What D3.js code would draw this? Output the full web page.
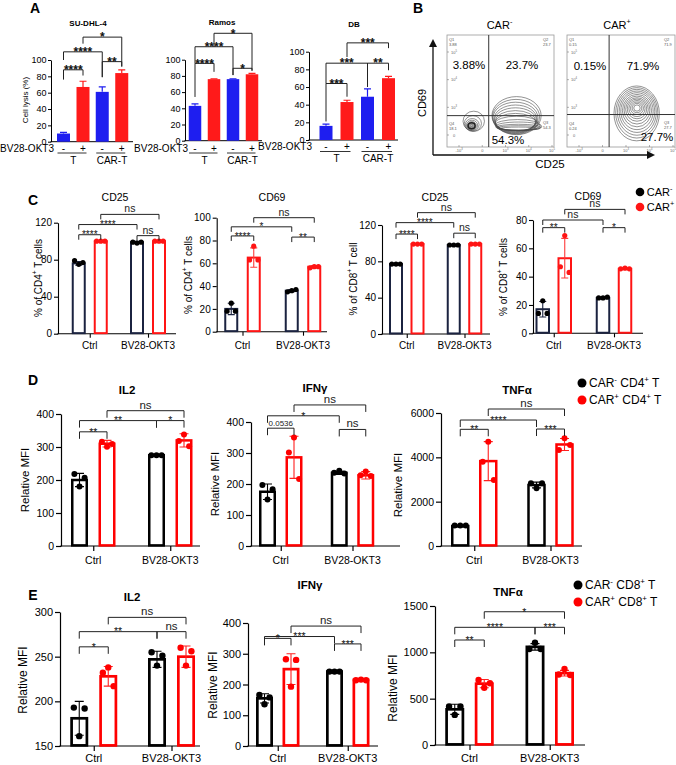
<!DOCTYPE html>
<html><head><meta charset="utf-8">
<script src="https://cdn.jsdelivr.net/npm/d3@7"></script>
<style>body{margin:0;background:#fff} svg{display:block}</style>
</head><body>
<script>
// ================= DATA =================
// Panel A  (cell lysis %)
const A_groups = ["T", "CAR-T"];
const A_series = ["-", "+"];
const A_yTicks = [0, 20, 40, 60, 80, 100];
const A_SUDHL4_mean = [10, 67, 61, 84];
const A_SUDHL4_sd = [1.5, 7, 6, 4];
const A_Ramos_mean = [43, 76, 76, 82];
const A_Ramos_sd = [2.5, 0.5, 0.5, 1.2];
const A_DB_mean = [16, 43, 49, 70];
const A_DB_sd = [2, 2, 9, 2];
const A_SUDHL4_sig = [
  {a:0,b:1,y:88,la:76,lb:81,label:"****"},
  {a:0,b:2,y:110,la:100,lb:79,label:"****"},
  {a:1,b:3,y:128,la:120,lb:92,label:"*"},
  {a:2,b:3,y:98,la:79,lb:92,label:"**"}];
const A_Ramos_sig = [
  {a:0,b:1,y:95.5,la:54,lb:85,label:"****"},
  {a:0,b:2,y:116,la:95.5,lb:81,label:"****"},
  {a:1,b:3,y:132.6,la:116,lb:87,label:"*"},
  {a:2,b:3,y:89.4,la:81,lb:86,label:"*"}];
const A_DB_sig = [
  {a:0,b:1,y:64,la:21,lb:49,label:"***"},
  {a:0,b:2,y:87,la:64,lb:60,label:"***"},
  {a:1,b:3,y:110,la:94,lb:104,label:"***"},
  {a:2,b:3,y:87,la:60,lb:79,label:"**"}];

// Panel B (flow cytometry)
const B_titles = ["CAR^-^", "CAR^+^"];
const B_neg_pct = ["3.88%", "23.7%", "54.3%"];
const B_pos_pct = ["0.15%", "71.9%", "27.7%"];
const B_neg_q = [["Q1","3.88"],["Q2","23.7"],["Q4","18.1"],["Q3","54.3"]];
const B_pos_q = [["Q1","0.15"],["Q2","71.9"],["Q4","0.24"],["Q3","27.7"]];
const B_neg_gate = [39, 28];
const B_pos_gate = [39, 29];
const B_yTickLabels = ["10^5^","10^4^","10^3^","0"];
const B_xTickLabels = ["-10^3^","0","10^3^","10^4^","10^5^"];
// contour rings [cx, cy, rx, ry] in plot units (0-100)
const B_neg_rings = [
  [25,23,10,9],[24.2,21,8,7],[23.6,20,6.4,5.4],[23.4,19.5,5.2,4.4],
  [23.2,19.2,4.2,3.5],[23,19,3.2,2.7],[23,19,2.3,1.9],[23,19,1.5,1.2],[23,19,0.8,0.7],
  [65,28,23,17],[64.5,27,22,15.5],[64,26,21,14],[64,25,20,12.5],[64,24,19.5,11],
  [64,23,19,9.5],[64,22,19,8],[65,21,20,6.5],[66,19.5,21,5],[67,18.5,21.5,3.8],
  [67,17.5,21,2.8],[67,17,20,2],[67,16.5,17,1.3]];
const B_pos_rings = [
  [64.5,30,21,24.5],[64.6,30.5,19.5,22.5],[64.7,31,18,20.5],[64.8,31.5,16.5,18.5],
  [64.8,32,15,16.5],[64.8,32.5,13.5,14.5],[64.8,33,12,12.5],[64.8,33.5,10.5,10.5],
  [64.8,34,9,8.8],[64.8,34.3,7.5,7.2],[64.8,34.6,6,5.6],[64.8,34.8,4.5,4.2],[64.8,34.8,3,2.8]];

// Panel C (% activation markers)
const C_groups = ["Ctrl", "BV28-OKT3"];
const C_series = ["CAR-", "CAR+"];
const C_CD4_CD25_mean = [76, 100, 99, 100];
const C_CD4_CD25_sd = [2, 0.5, 0.8, 0.5];
const C_CD4_CD25_pts = [[79,75,77],[100,100,100],[99,98,99],[100,100,100]];
const C_CD4_CD69_mean = [20, 65, 36, 57];
const C_CD4_CD69_sd = [5, 8.5, 1, 1];
const C_CD4_CD69_pts = [[18,25,18],[63,75,63],[35,36,37],[56,57,57]];
const C_CD8_CD25_mean = [77, 99, 98, 99];
const C_CD8_CD25_sd = [0.5, 0.5, 0.5, 0.5];
const C_CD8_CD25_pts = [[77,77,77],[99,99,99],[98,98,98],[99,99,99]];
const C_CD8_CD69_mean = [17, 53, 25, 45.5];
const C_CD8_CD69_sd = [5.5, 14, 0.5, 0.5];
const C_CD8_CD69_pts = [[14,23,14],[47,69,43],[25,25,25.5],[45.5,46,45.5]];
const C_sig = [
  [{a:0,b:1,y:107,label:"****"},{a:0,b:2,y:118,label:"****"},{a:1,b:3,y:129,label:"ns"},{a:2,b:3,y:106,label:"ns"}],
  [{a:0,b:1,y:84,label:"****"},{a:0,b:2,y:92,label:"*"},{a:1,b:3,y:100,label:"ns"},{a:2,b:3,y:83,label:"**"}],
  [{a:0,b:1,y:110,label:"****"},{a:0,b:2,y:122.6,label:"****"},{a:1,b:3,y:133.6,label:"ns"},{a:2,b:3,y:111,label:"ns"}],
  [{a:0,b:1,y:74.6,label:"**"},{a:0,b:2,y:80,label:"ns"},{a:1,b:3,y:87.5,label:"ns"},{a:2,b:3,y:74.6,label:"*"}]];

// Panel D (CD4 cytokines, relative MFI)
const D_IL2_mean = [200, 310, 275, 320];
const D_IL2_sd = [20, 10, 2, 20];
const D_IL2_pts = [[218,180,207],[316,301,309],[275,275,275],[318,338,302]];
const D_IFNg_mean = [175, 286, 236, 228];
const D_IFNg_sd = [25, 68, 5, 12];
const D_IFNg_pts = [[197,150,183],[302,350,216],[236,243,234],[228,240,226]];
const D_TNFa_mean = [900, 3830, 2750, 4580];
const D_TNFa_sd = [40, 880, 130, 270];
const D_TNFa_pts = [[930,930,930],[3803,4706,2977],[2828,2602,2828],[4330,4857,4555]];
const D_sig = [
  [{a:0,b:1,y:346,label:"**"},{a:0,b:2,y:380,label:"**"},{a:1,b:3,y:410,label:"ns"},{a:2,b:3,y:380,label:"*"}],
  [{a:0,b:1,y:380,label:"0.0536"},{a:0,b:2,y:420,label:"*"},{a:1,b:3,y:455,label:"ns"},{a:2,b:3,y:376,label:"ns"}],
  [{a:0,b:1,y:5264,label:"**"},{a:0,b:2,y:5683,label:"****"},{a:1,b:3,y:6180,label:"ns"},{a:2,b:3,y:5277,label:"***"}]];

// Panel E (CD8 cytokines, relative MFI)
const E_IL2_mean = [181, 228, 247, 250];
const E_IL2_sd = [19, 11, 9, 12];
const E_IL2_pts = [[193,161,192],[232,238,217],[255,240,251],[260,240,256]];
const E_IFNg_mean = [155, 250, 242, 215];
const E_IFNg_sd = [15, 50, 1, 2];
const E_IFNg_pts = [[166,136,158],[282,193,280],[242,242,242],[214,216,214]];
const E_TNFa_mean = [385, 662, 1059, 775];
const E_TNFa_sd = [55, 45, 35, 30];
const E_TNFa_pts = [[415,325,415],[701,618,666],[1036,1104,1036],[760,820,755]];
const E_sig = [
  [{a:0,b:1,y:261,label:"*"},{a:0,b:2,y:278,label:"**"},{a:1,b:3,y:294,label:"ns"},{a:2,b:3,y:278,label:"ns"}],
  [{a:0,b:1,y:350,label:"*"},{a:0,b:2,y:356,label:"***"},{a:1,b:3,y:390,label:"ns"},{a:2,b:3,y:332,label:"***"}],
  [{a:0,b:1,y:1133,label:"**"},{a:0,b:2,y:1270,label:"****"},{a:1,b:3,y:1438,label:"*"},{a:2,b:3,y:1270,label:"***"}]];

const legendC = ["CAR^-^", "CAR^+^"];
const legendD = ["CAR^-^ CD4^+^ T", "CAR^+^ CD4^+^ T"];
const legendE = ["CAR^-^ CD8^+^ T", "CAR^+^ CD8^+^ T"];

// ================= DRAWING =================
const FONT = "'Liberation Sans', Arial, Helvetica, sans-serif";
const svg = d3.select("body").append("svg").attr("width", 676).attr("height", 765)
  .style("font-family", FONT);

function rich(sel, str, size) {
  const parts = String(str).split("^");
  let raised = false;
  parts.forEach((p, i) => {
    const sup = i % 2 === 1;
    if (!p) return;
    const t = sel.append("tspan").text(p);
    if (sup) { t.attr("font-size", size * 0.66).attr("dy", -size * 0.42); raised = true; }
    else if (raised) { t.attr("dy", size * 0.42); raised = false; }
  });
  return sel;
}
function txt(parent, x, y, str, size, o = {}) {
  const t = parent.append("text").attr("x", x).attr("y", y).attr("font-size", size)
    .attr("text-anchor", o.anchor || "middle").attr("fill", o.fill || "#000");
  if (o.bold) t.attr("font-weight", "bold");
  if (o.rotate) t.attr("transform", `rotate(-90,${x},${y})`).attr("dominant-baseline", "central");
  rich(t, str, size);
  return t;
}

function barChart(c) {
  const g = svg.append("g");
  const y = d3.scaleLinear().domain(c.yDomain).range([c.yBottom, c.yTop]);
  const gx = d3.scalePoint().domain(c.groups).range(c.groupRange);
  const sx = d3.scalePoint().domain(c.series).range([-c.d / 2, c.d / 2]);
  const idx = d3.range(c.mean.length);
  const cx = i => gx(c.groups[Math.floor(i / 2)]) + sx(c.series[i % 2]);
  const col = i => c.colors[i % 2];
  const base = y(c.yDomain[0]);

  const ay = g.append("g").attr("transform", `translate(${c.axisX},0)`)
    .call(d3.axisLeft(y).tickValues(c.yTicks).tickFormat(d3.format("d"))
      .tickSize(c.tick).tickSizeOuter(0).tickPadding(c.tickPad || 2));
  ay.selectAll("path,line").attr("stroke", "#000").attr("stroke-width", c.axisW);
  ay.selectAll("text").attr("font-size", c.tickFont).attr("font-family", FONT).attr("fill", "#000");
  g.append("line").attr("x1", c.axisX - c.axisW / 2).attr("x2", c.xEnd)
    .attr("y1", base).attr("y2", base).attr("stroke", "#000").attr("stroke-width", c.axisW);
  if (c.catTicks) {
    const ax = g.append("g").attr("transform", `translate(0,${base})`)
      .call(d3.axisBottom(gx).tickSize(c.tick).tickFormat(""));
    ax.select(".domain").remove();
    ax.selectAll("line").attr("stroke", "#000").attr("stroke-width", c.axisW);
    c.groups.forEach(gr => txt(g, gx(gr), c.catY, gr, c.catFont));
  }

  if (c.filled) {
    g.selectAll("rect.bar").data(idx).join("rect").attr("class", "bar")
      .attr("x", i => cx(i) - c.bw / 2).attr("width", c.bw)
      .attr("y", i => y(c.mean[i])).attr("height", i => base - y(c.mean[i]))
      .attr("fill", col);
    idx.forEach(i => {
      const x0 = cx(i), yt = y(c.mean[i] + c.sd[i]);
      g.append("path").attr("d", `M${x0},${y(c.mean[i])}V${yt}M${x0 - c.cap},${yt}H${x0 + c.cap}`)
        .attr("stroke", col(i)).attr("stroke-width", 1.2).attr("fill", "none");
    });
  } else {
    g.selectAll("rect.bar").data(idx).join("rect").attr("class", "bar")
      .attr("x", i => cx(i) - c.bw / 2 + c.sw / 2).attr("width", c.bw - c.sw)
      .attr("y", i => y(c.mean[i])).attr("height", i => base - y(c.mean[i]) - c.axisW / 2)
      .attr("fill", "#fff").attr("stroke", col).attr("stroke-width", c.sw);
    idx.forEach(i => {
      const x0 = cx(i), yt = y(c.mean[i] + c.sd[i]), yb = y(c.mean[i] - c.sd[i]);
      g.append("path").attr("d", `M${x0},${yb}V${yt}M${x0 - c.cap},${yt}H${x0 + c.cap}M${x0 - c.cap},${yb}H${x0 + c.cap}`)
        .attr("stroke", c.errColors[i % 2]).attr("stroke-width", 1.1).attr("fill", "none");
    });
    if (c.pts) {
      idx.forEach(i => {
        g.selectAll(null).data(c.pts[i]).join("circle")
          .attr("cx", (v, k) => cx(i) + (k - 1) * c.bw * 0.3)
          .attr("cy", v => y(v)).attr("r", c.r).attr("fill", c.ptColors[i % 2]);
      });
    }
  }

  c.sig.forEach(s => {
    const x1 = cx(s.a), x2 = cx(s.b), yy = y(s.y);
    const y1 = s.la !== undefined ? y(s.la) : yy + c.leg;
    const y2 = s.lb !== undefined ? y(s.lb) : yy + c.leg;
    g.append("path").attr("d", `M${x1},${y1}V${yy}H${x2}V${y2}`)
      .attr("fill", "none").attr("stroke", c.brColor || "#222").attr("stroke-width", 1);
    const star = /^\*+$/.test(s.label);
    const fs = star ? c.starFont : (s.label === "ns" ? c.nsFont : c.numFont);
    const ty = star ? yy + fs * 0.36 : yy - 2;
    const t = txt(g, (x1 + x2) / 2, ty, s.label, fs, {fill: star ? "#111" : "#222"});
    if (star && c.starBold) t.attr("font-weight", "bold");
  });

  if (c.title) txt(g, c.title[1], c.title[2], c.title[0], c.titleFont, {bold: c.titleBold});
  if (c.ylabel) txt(g, c.ylabel[1], c.ylabel[2], c.ylabel[0], c.ylabelFont, {rotate: true});
  return {g, cx, y, gx};
}

// ---------- Panel letters ----------
[["A", 35, 13], ["B", 418, 13], ["C", 33, 205], ["D", 33, 385], ["E", 33, 600]]
  .forEach(([l, x, y]) => txt(svg, x, y, l, 14, {bold: true}));

// ---------- Panel A ----------
const A_base = {groups: A_groups, series: A_series, yDomain: [0, 100], yTicks: A_yTicks,
  tick: 3, tickPad: 1.5, axisW: 1, tickFont: 9, filled: true, colors: ["#1e1ef0", "#ff1a1a"],
  cap: 3.5, starFont: 12, starBold: true, nsFont: 10, numFont: 8, titleFont: 8, titleBold: true,
  ylabelFont: 8, catTicks: false};
const A_charts = [
  {mean: A_SUDHL4_mean, sd: A_SUDHL4_sd, sig: A_SUDHL4_sig, axisX: 51, xEnd: 133, yTop: 60, yBottom: 141.7,
   groupRange: [73.25, 112], d: 19.5, bw: 13, title: ["SU-DHL-4", 88, 26], ylabel: ["Cell lysis (%)", 25, 100],
   rowY: 147.5, lineY: 153, grpY: 163.5},
  {mean: A_Ramos_mean, sd: A_Ramos_sd, sig: A_Ramos_sig, axisX: 185, xEnd: 262, yTop: 59.7, yBottom: 140.7,
   groupRange: [204.5, 242.5], d: 19, bw: 12.5, title: ["Ramos", 222, 25], rowY: 147.5, lineY: 153, grpY: 163.5},
  {mean: A_DB_mean, sd: A_DB_sd, sig: A_DB_sig, axisX: 309, xEnd: 398, yTop: 51.7, yBottom: 140,
   groupRange: [336.5, 378], d: 21, bw: 13, title: ["DB", 354, 27], rowY: 145.5, lineY: 151.5, grpY: 162}
];
A_charts.forEach(ac => {
  const ch = barChart(Object.assign({}, A_base, ac));
  d3.range(4).forEach(i => txt(ch.g, ch.cx(i), ac.rowY + 4, A_series[i % 2], 10));
  txt(ch.g, ac.axisX + 3, ac.rowY + 4, "BV28-OKT3", 10, {anchor: "end"});
  A_groups.forEach((gr, k) => {
    ch.g.append("line").attr("x1", ch.cx(2 * k) - 6).attr("x2", ch.cx(2 * k + 1) + 3.5)
      .attr("y1", ac.lineY).attr("y2", ac.lineY).attr("stroke", "#000").attr("stroke-width", 0.8);
    txt(ch.g, ch.gx(gr), ac.grpY, gr, 10);
  });
});

// ---------- Panel B ----------
function flowPlot(box, rings, gate, pct, pctPos, q, title) {
  const g = svg.append("g");
  const x = d3.scaleLinear().domain([0, 100]).range([box.x0, box.x1]);
  const y = d3.scaleLinear().domain([0, 100]).range([box.y1, box.y0]);
  g.append("rect").attr("x", box.x0).attr("y", box.y0).attr("width", box.x1 - box.x0)
    .attr("height", box.y1 - box.y0).attr("fill", "#fff").attr("stroke", "#9a9a9a").attr("stroke-width", 0.8);
  g.selectAll("ellipse").data(rings).join("ellipse")
    .attr("cx", d => x(d[0])).attr("cy", d => y(d[1]))
    .attr("rx", d => x(d[2]) - x(0)).attr("ry", d => y(0) - y(d[3]))
    .attr("fill", "none").attr("stroke", "#4a4a4a").attr("stroke-width", 0.6);
  g.append("line").attr("x1", x(gate[0])).attr("x2", x(gate[0])).attr("y1", box.y0).attr("y2", box.y1)
    .attr("stroke", "#333").attr("stroke-width", 1);
  g.append("line").attr("x1", box.x0).attr("x2", box.x1).attr("y1", y(gate[1])).attr("y2", y(gate[1]))
    .attr("stroke", "#333").attr("stroke-width", 1);
  pct.forEach((p, i) => txt(g, pctPos[i][0], pctPos[i][1], p, 11.5));
  const qp = [[box.x0 + 2, box.y0 + 6], [box.x1 - 11, box.y0 + 6],
              [box.x0 + 2, box.y1 - 22], [box.x1 - 11, box.y1 - 23]];
  q.forEach((qq, i) => {
    txt(g, qp[i][0], qp[i][1], qq[0], 4, {anchor: "start", fill: "#555"});
    txt(g, qp[i][0], qp[i][1] + 5, qq[1], 4, {anchor: "start", fill: "#555"});
  });
  const yt = d3.scaleLinear().domain([0, B_yTickLabels.length - 1]).range([box.y0 + 17, box.y1 - 12]);
  B_yTickLabels.forEach((l, i) => {
    g.append("line").attr("x1", box.x0).attr("x2", box.x0 + 2).attr("y1", yt(i)).attr("y2", yt(i)).attr("stroke", "#666").attr("stroke-width", 0.5);
    txt(g, box.x0 + 7, yt(i) + 1.5, l, 4, {fill: "#666"});
  });
  const xt = d3.scaleLinear().domain([0, B_xTickLabels.length - 1]).range([box.x0 + 12, box.x1 - 2]);
  B_xTickLabels.forEach((l, i) => {
    g.append("line").attr("x1", xt(i)).attr("x2", xt(i)).attr("y1", box.y1).attr("y2", box.y1 - 2).attr("stroke", "#666").attr("stroke-width", 0.5);
    txt(g, xt(i), box.y1 + 5, l, 4, {fill: "#666"});
  });
  txt(g, (box.x0 + box.x1) / 2 + title[1], 29, title[0], 11);
  return {x, y, g};
}
const fpNeg = flowPlot({x0: 447, x1: 554, y0: 35, y1: 147}, B_neg_rings, B_neg_gate, B_neg_pct,
  [[469, 69], [522, 69], [508, 144]], B_neg_q, [B_titles[0], -1]);
const fpPos = flowPlot({x0: 567, x1: 675, y0: 35, y1: 147}, B_pos_rings, B_pos_gate, B_pos_pct,
  [[590, 70], [643, 70], [657, 141]], B_pos_q, [B_titles[1], -4]);
fpNeg.g.append("ellipse").attr("cx", fpNeg.x(23)).attr("cy", fpNeg.y(19)).attr("rx", 3.5).attr("ry", 3)
  .attr("fill", "none").attr("stroke", "#222").attr("stroke-width", 1.6);
fpPos.g.append("circle").attr("cx", fpPos.x(64.8)).attr("cy", fpPos.y(34.8)).attr("r", 1.6).attr("fill", "#fff");
svg.append("path").attr("d", "M433,155V46M433,155H648").attr("stroke", "#111").attr("stroke-width", 1.3).attr("fill", "none");
svg.append("path").attr("d", "M429,47L433,39L437,47Z").attr("fill", "#111");
svg.append("path").attr("d", "M647,151L655,155L647,159Z").attr("fill", "#111");
txt(svg, 422, 103, "CD69", 11, {rotate: true});
txt(svg, 550, 168, "CD25", 11.5);

// ---------- Panel C ----------
const C_base = {groups: C_groups, series: C_series, tick: 4, tickPad: 2, axisW: 1.1, tickFont: 10,
  filled: false, colors: ["#1b2340", "#ff1414"], errColors: ["#1b2340", "#ff3a3a"], ptColors: ["#000", "#ff1414"],
  sw: 2, cap: 3.5, r: 2.6, leg: 5, starFont: 10, nsFont: 10.5, numFont: 8, titleFont: 10.5, titleBold: false,
  ylabelFont: 10, catTicks: true, catFont: 10, catY: 349};
const C_charts = [
  {mean: C_CD4_CD25_mean, sd: C_CD4_CD25_sd, pts: C_CD4_CD25_pts, sig: C_sig[0], yDomain: [0, 120], yTicks: [0, 40, 80, 120],
   axisX: 58, xEnd: 176, yTop: 222.7, yBottom: 333.7, groupRange: [89.75, 148], d: 22, bw: 14,
   title: ["CD25", 115, 201], ylabel: ["% of CD4^+^ T cells", 38, 278]},
  {mean: C_CD4_CD69_mean, sd: C_CD4_CD69_sd, pts: C_CD4_CD69_pts, sig: C_sig[1], yDomain: [0, 100], yTicks: [0, 20, 40, 60, 80, 100],
   axisX: 216.7, xEnd: 327, yTop: 217.7, yBottom: 331.7, groupRange: [242.5, 303], d: 22.5, bw: 14,
   title: ["CD69", 272, 201], ylabel: ["% of CD4^+^ T cells", 188, 275]},
  {mean: C_CD8_CD25_mean, sd: C_CD8_CD25_sd, pts: C_CD8_CD25_pts, sig: C_sig[2], yDomain: [0, 120], yTicks: [0, 40, 80, 120],
   axisX: 382, xEnd: 490, yTop: 225, yBottom: 334, groupRange: [406.75, 464.5], d: 21.5, bw: 14,
   title: ["CD25", 435, 201], ylabel: ["% of CD8^+^ T cell", 353, 279]},
  {mean: C_CD8_CD69_mean, sd: C_CD8_CD69_sd, pts: C_CD8_CD69_pts, sig: C_sig[3], yDomain: [0, 80], yTicks: [0, 20, 40, 60, 80],
   axisX: 533, xEnd: 643, yTop: 220, yBottom: 333.3, groupRange: [553.75, 614], d: 22, bw: 14.5,
   title: ["CD69", 588, 200], ylabel: ["% of CD8^+^ T cells", 503, 277]}
];
C_charts.forEach(cc => barChart(Object.assign({}, C_base, cc)));

// ---------- Panel D ----------
const D_base = {groups: C_groups, series: C_series, tick: 5, tickPad: 2, axisW: 1.2, tickFont: 10.5,
  filled: false, colors: ["#000", "#ff0000"], errColors: ["#000", "#ff2020"], ptColors: ["#000", "#ff0000"],
  sw: 2.5, cap: 4.5, r: 3, leg: 7, starFont: 10.5, nsFont: 11.5, numFont: 8, titleFont: 11.5, titleBold: true,
  ylabelFont: 11.5, catTicks: true, catFont: 10.5, catY: 564};
const D_charts = [
  {mean: D_IL2_mean, sd: D_IL2_sd, pts: D_IL2_pts, sig: D_sig[0], yDomain: [0, 400], yTicks: [0, 100, 200, 300, 400],
   axisX: 61, xEnd: 200, yTop: 414, yBottom: 546, groupRange: [93.25, 170.25], d: 27.5, bw: 17,
   title: ["IL2", 127, 394], ylabel: ["Relative MFI", 25, 480]},
  {mean: D_IFNg_mean, sd: D_IFNg_sd, pts: D_IFNg_pts, sig: D_sig[1], yDomain: [0, 400], yTicks: [0, 100, 200, 300, 400],
   axisX: 251, xEnd: 400, yTop: 422, yBottom: 546, groupRange: [280.75, 352.5], d: 26.5, bw: 17,
   title: ["IFNγ", 315, 392], ylabel: ["Relative MFI", 215, 484]},
  {mean: D_TNFa_mean, sd: D_TNFa_sd, pts: D_TNFa_pts, sig: D_sig[2], yDomain: [0, 6000], yTicks: [0, 2000, 4000, 6000],
   axisX: 441, xEnd: 582, yTop: 413, yBottom: 546, groupRange: [474.25, 550.5], d: 28, bw: 18.5,
   title: ["TNFα", 517, 394], ylabel: ["Relative MFI", 398, 485]}
];
D_charts.forEach(dc => barChart(Object.assign({}, D_base, dc)));

// ---------- Panel E ----------
const E_base = Object.assign({}, D_base, {tickFont: 11, sw: 2.7, r: 3.2, catY: 762, catFont: 11, ylabelFont: 12});
const E_charts = [
  {mean: E_IL2_mean, sd: E_IL2_sd, pts: E_IL2_pts, sig: E_sig[0], yDomain: [150, 300], yTicks: [150, 200, 250, 300],
   axisX: 60, xEnd: 200, yTop: 612, yBottom: 746, groupRange: [93.75, 171.5], d: 29, bw: 18,
   title: ["IL2", 132, 601], ylabel: ["Relative MFI", 23, 680]},
  {mean: E_IFNg_mean, sd: E_IFNg_sd, pts: E_IFNg_pts, sig: E_sig[1], yDomain: [0, 400], yTicks: [0, 100, 200, 300, 400],
   axisX: 248, xEnd: 378, yTop: 623, yBottom: 746, groupRange: [277.75, 347.75], d: 26.5, bw: 17,
   title: ["IFNγ", 310, 589], ylabel: ["Relative MFI", 213, 685]},
  {mean: E_TNFa_mean, sd: E_TNFa_sd, pts: E_TNFa_pts, sig: E_sig[2], yDomain: [0, 1500], yTicks: [0, 500, 1000, 1500],
   axisX: 435, xEnd: 585, yTop: 606, yBottom: 745, groupRange: [469.5, 549.75], d: 29.5, bw: 19,
   title: ["TNFα", 508, 596], ylabel: ["Relative MFI", 393, 688]}
];
E_charts.forEach(ec => barChart(Object.assign({}, E_base, ec)));

// ---------- Legends ----------
function legend(x, y0, dy, labels, colors, size, r) {
  labels.forEach((l, i) => {
    svg.append("circle").attr("cx", x).attr("cy", y0 + i * dy).attr("r", r).attr("fill", colors[i]);
    txt(svg, x + r + 2.5, y0 + i * dy + size * 0.36, l, size, {anchor: "start"});
  });
}
legend(640, 192, 15, legendC, ["#000", "#ff1414"], 11, 4.3);
legend(582, 383, 17, legendD, ["#000", "#ff0000"], 12, 4.5);
legend(578, 585, 17, legendE, ["#000", "#ff0000"], 12, 4.5);
</script>
</body></html>
